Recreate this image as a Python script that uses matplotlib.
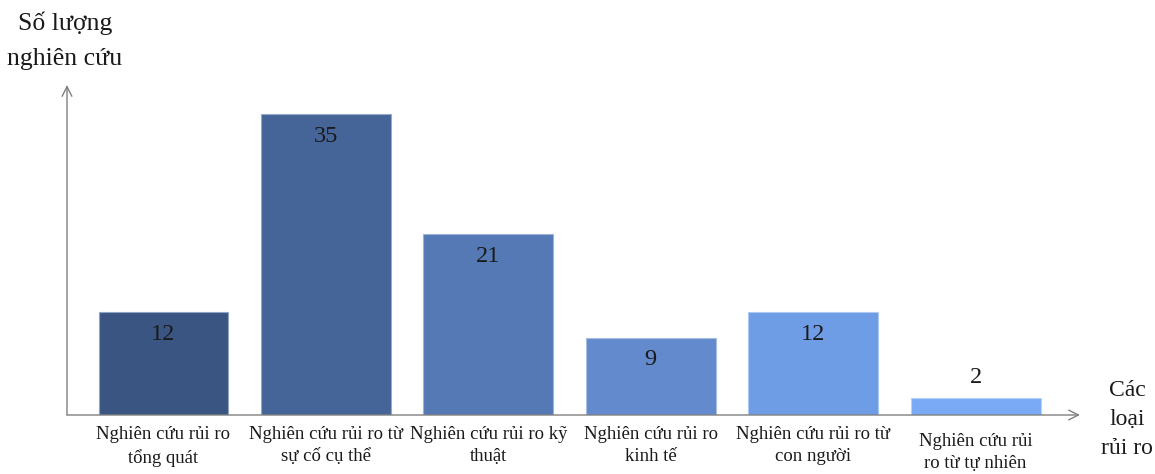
import matplotlib
matplotlib.use("Agg")
import matplotlib.pyplot as plt

categories = [
    "Nghiên cứu rủi ro\ntổng quát",
    "Nghiên cứu rủi ro từ\nsự cố cụ thể",
    "Nghiên cứu rủi ro kỹ\nthuật",
    "Nghiên cứu rủi ro\nkinh tế",
    "Nghiên cứu rủi ro từ\ncon người",
    "Nghiên cứu rủi\nro từ tự nhiên",
]
values = [12, 35, 21, 9, 12, 2]
colors = ["#3a5581", "#456599", "#5479b5", "#628acc", "#6e9de6", "#7aaaf5"]
edges = ["#8fa3c4", "#95a9cf", "#9db2da", "#a6bde4", "#adc8f0", "#b7d2fa"]
y_title = "Số lượng\nnghiên cứu"
x_title = "Các\nloại\nrủi ro"

plt.rcParams["font.family"] = ["Liberation Serif", "DejaVu Serif"]

W, H = 1155, 474
fig = plt.figure(figsize=(W / 100, H / 100), dpi=100)
left, right, base, top = 67, 1080, 415, 85
ax = fig.add_axes([left / W, 1 - base / H, (right - left) / W, (base - top) / H])
ax.set_xlim(-0.594, 5.643)
ax.set_ylim(0, 38.37)
ax.axis("off")

xs = list(range(len(values)))
ax.bar(xs, values, width=0.8, color=colors, edgecolor=edges, linewidth=0.8, zorder=2)

for x, v in zip(xs, values):
    if v >= 5:
        ax.annotate(str(v), xy=(x, v), xytext=(0, -16), textcoords="offset points",
                    ha="center", va="center", fontsize=17.5, color="#1a1a1a", zorder=3)
    else:
        ax.annotate(str(v), xy=(x, v), xytext=(0, 14.5), textcoords="offset points",
                    ha="center", va="center", fontsize=17.5, color="#1a1a1a", zorder=3)

offsets = [-8, -8, -8, -8, -8, -13]
for x, lab, off in zip(xs, categories, offsets):
    ax.annotate(lab, xy=(x, 0), xytext=(0, off), textcoords="offset points",
                ha="center", va="top", fontsize=13.5, color="#1a1a1a",
                multialignment="center", linespacing=1.4, annotation_clip=False)

arrow = dict(arrowstyle="->,head_length=0.7,head_width=0.35", color="#808080", lw=1.0,
             shrinkA=0, shrinkB=0)
ax.annotate("", xy=(0, 1), xytext=(0, 0), xycoords="axes fraction", arrowprops=arrow,
            annotation_clip=False)
ax.annotate("", xy=(1, 0), xytext=(0, 0), xycoords="axes fraction", arrowprops=arrow,
            annotation_clip=False)

fig.text(65 / W, 1 - 41 / H, y_title, ha="center", va="center", fontsize=18.5,
         multialignment="center", linespacing=1.78, color="#1a1a1a")
fig.text(1127 / W, 1 - 419 / H, x_title, ha="center", va="center", fontsize=17,
         multialignment="center", linespacing=1.5, color="#1a1a1a")

fig.savefig("out.png", dpi=100, facecolor="white")
